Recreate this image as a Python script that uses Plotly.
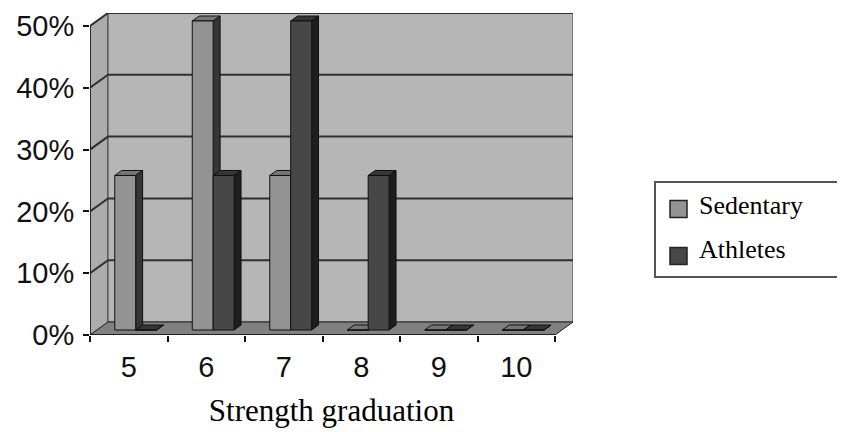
import plotly.graph_objects as go

# ---- data ----
categories = ['5', '6', '7', '8', '9', '10']
sedentary = [25, 50, 25, 0, 0, 0]
athletes = [0, 25, 50, 25, 0, 0]
y_ticks = [0, 10, 20, 30, 40, 50]
y_tick_labels = ['0%', '10%', '20%', '30%', '40%', '50%']
series_names = ['Sedentary', 'Athletes']
x_title = 'Strength graduation'

# ---- style / geometry ----
OFF = 8                                      # page body margin compensation
W, H = 845 - OFF, 432 - OFF
PL, PR, PT, PB = 90 - OFF, 573 - OFF, 13 - OFF, 335 - OFF   # plot area (figure px)
n = len(categories)
DX = 18 / 77.5                              # full depth shift (x data units)
YMAX = 52.1
px_per_y = (PB - PT) / YMAX
DY = 13 / px_per_y                          # full depth shift (y data units)
F0, F1 = 0.385, 0.77                        # bar depth (front/back fractions)
BW = 0.27
OFFS = [0.23, 0.5]
FRONT = ['#939393', '#474747']
SIDE = ['#363636', '#1e1e1e']
TOP = ['#767676', '#363636']


def faces(values, off):
    fx, fy, sx, sy, tx, ty = [], [], [], [], [], []
    ddx, ddy = (F1 - F0) * DX, (F1 - F0) * DY
    for i, v in enumerate(values):
        xl = i + off + F0 * DX
        xr = xl + BW
        yb = F0 * DY
        yt = v + F0 * DY
        fx += [xl, xr, xr, xl, xl, None]
        fy += [yb, yb, yt, yt, yb, None]
        sx += [xr, xr + ddx, xr + ddx, xr, xr, None]
        sy += [yb, yb + ddy, yt + ddy, yt, yb, None]
        tx += [xl, xr, xr + ddx, xl + ddx, xl, None]
        ty += [yt, yt, yt + ddy, yt + ddy, yt, None]
    return (fx, fy), (sx, sy), (tx, ty)


fig = go.Figure()
for k, vals in enumerate([sedentary, athletes]):
    (fx, fy), (sx, sy), (tx, ty) = faces(vals, OFFS[k])
    for (xx, yy, col) in [(tx, ty, TOP[k]), (sx, sy, SIDE[k]), (fx, fy, FRONT[k])]:
        fig.add_trace(go.Scatter(x=xx, y=yy, mode='lines', fill='toself',
                                 fillcolor=col, line=dict(color='#111111', width=1),
                                 name=series_names[k], showlegend=False,
                                 hoverinfo='skip'))

shapes = []
# left wall
shapes.append(dict(type='path', xref='x', yref='y', layer='below',
                   path=f'M0,0 L0,50 L{DX},{50+DY} L{DX},{DY} Z',
                   fillcolor='#acacac', line=dict(color='#444444', width=1)))
# back wall
shapes.append(dict(type='path', xref='x', yref='y', layer='below',
                   path=f'M{DX},{DY} L{n+DX},{DY} L{n+DX},{50+DY} L{DX},{50+DY} Z',
                   fillcolor='#b6b6b6', line=dict(color='#444444', width=1)))
# floor
shapes.append(dict(type='path', xref='x', yref='y', layer='below',
                   path=f'M0,0 L{n},0 L{n+DX},{DY} L{DX},{DY} Z',
                   fillcolor='#808080', line=dict(color='#222222', width=1)))
# gridlines
for v in y_ticks[1:]:
    shapes.append(dict(type='path', xref='x', yref='y', layer='below',
                       path=f'M0,{v} L{DX},{v+DY} L{n+DX},{v+DY}',
                       line=dict(color='#303030', width=2)))
# front axis lines
shapes.append(dict(type='line', xref='x', yref='y', layer='below',
                   x0=0, y0=0, x1=0, y1=50, line=dict(color='#111111', width=1.5)))
shapes.append(dict(type='line', xref='x', yref='y', layer='below',
                   x0=0, y0=0, x1=n, y1=0, line=dict(color='#111111', width=1.5)))


def pxx(p):
    return (p - OFF - PL) / (PR - PL)


def pxy(p):
    return (PB - (p - OFF)) / (PB - PT)


# legend (drawn manually; coordinates are screen pixels; box open at the right edge)
lx0, lx1, ly0, ly1 = pxx(655), pxx(880), pxy(277), pxy(182)
shapes.append(dict(type='path', xref='paper', yref='paper',
                   path=f'M{lx1},{ly0} L{lx0},{ly0} L{lx0},{ly1} L{lx1},{ly1}',
                   fillcolor='rgba(0,0,0,0)', line=dict(color='#555555', width=2)))
annotations = []
for k, (cy, ty_) in enumerate([(209, 205), (256, 249)]):
    shapes.append(dict(type='rect', xref='paper', yref='paper',
                       x0=pxx(670), x1=pxx(687), y0=pxy(cy + 8.5), y1=pxy(cy - 8.5),
                       fillcolor=FRONT[k], line=dict(color='#222222', width=1.5)))
    annotations.append(dict(xref='paper', yref='paper', x=pxx(697), y=pxy(ty_),
                            xanchor='left', yanchor='middle', showarrow=False,
                            text=series_names[k],
                            font=dict(family='Liberation Serif', size=26, color='black')))

fig.update_layout(
    width=W, height=H,
    margin=dict(l=PL, r=W - PR, t=PT, b=H - PB, pad=0, autoexpand=False),
    paper_bgcolor='white', plot_bgcolor='white',
    shapes=shapes, annotations=annotations, showlegend=False,
    xaxis=dict(range=[0, n + DX], tickvals=[i + 0.5 for i in range(n)],
               ticktext=categories, ticks='', showgrid=False, zeroline=False,
               showline=False, automargin=False, ticklabelstandoff=12,
               minor=dict(tick0=0, dtick=1, ticks='outside', ticklen=6,
                          tickcolor='#111111', tickwidth=1.5, showgrid=False),
               tickfont=dict(family='Liberation Sans', size=29, color='#111111'),
               title=dict(text=x_title, standoff=17,
                          font=dict(family='Liberation Serif', size=31, color='black'))),
    yaxis=dict(range=[0, YMAX], tickvals=y_ticks, ticktext=y_tick_labels,
               ticks='outside', ticklen=6, tickcolor='#111111', tickwidth=1.5,
               showgrid=False, zeroline=False, showline=False, automargin=False,
               ticklabelstandoff=3,
               tickfont=dict(family='Liberation Sans', size=29, color='#111111')),
)

fig.write_html('out.html')
